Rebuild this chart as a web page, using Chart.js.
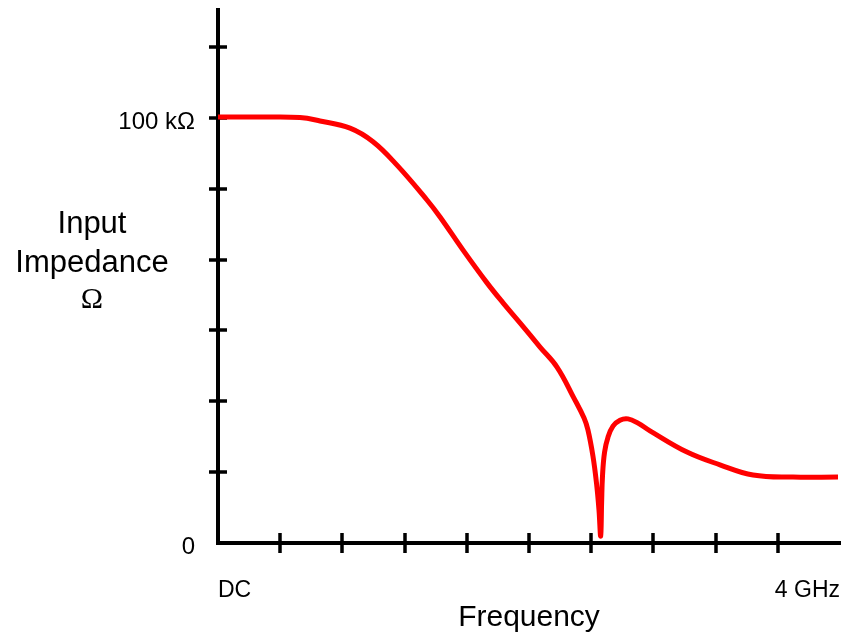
<!DOCTYPE html>
<html>
<head>
<meta charset="utf-8">
<script src="https://cdn.jsdelivr.net/npm/chart.js@4/dist/chart.umd.min.js"></script>
<style>
  html, body { margin: 0; padding: 0; background: #fff; }
</style>
</head>
<body>
<canvas id="myChart" width="843" height="639"></canvas>
<script>
// frequency in GHz, impedance in kOhm
const freqGHz = [0, 0.27, 0.527, 0.656, 0.849, 0.997, 1.151, 1.344, 1.428, 1.576,
  1.730, 1.833, 1.942, 2.071, 2.180, 2.289, 2.354, 2.379, 2.411, 2.434,
  2.450, 2.461, 2.467, 2.473, 2.486, 2.508, 2.540, 2.585, 2.637,
  2.701, 2.778, 3.016, 3.228, 3.441, 3.698, 3.987];
const impedanceK = [100.2, 100.2, 100.1, 99.3, 97.6, 94.4, 88.9, 80.7, 76.7, 68.9,
  61.2, 56.5, 51.8, 46.1, 41.4, 34.1, 29.4, 26.6, 20.5, 14.1,
  7.8, 1.6, 9.5, 16.0, 21.4, 24.9, 27.5, 28.9, 29.2,
  28.2, 26.4, 21.4, 18.4, 16.0, 15.5, 15.5];

const xTickValues = [0, 0.4, 0.8, 1.2, 1.6, 2.0, 2.4, 2.8, 3.2, 3.6, 4.0];
const xTickLabels = ["DC", "", "", "", "", "", "", "", "", "", "4 GHz"];
const yTickValues = [0, 16.667, 33.333, 50, 66.667, 83.333, 100, 116.667];
const yTickLabels = ["0", "", "", "", "", "", "100 k\u03A9", ""];
const yTitleLines = ["Input", "Impedance", "\u03A9"];

const SANS = '"Liberation Sans", Arial, sans-serif';

// crossing tick marks + horizontal y title
const axisMarks = {
  id: 'axisMarks',
  beforeDatasetsDraw(chart) {
    const { ctx, scales: { x, y } } = chart;
    ctx.save();
    ctx.strokeStyle = '#000';
    ctx.lineWidth = 3.5;
    ctx.beginPath();
    xTickValues.slice(1, -1).forEach(v => {
      const px = Math.round(x.getPixelForValue(v));
      ctx.moveTo(px, y.bottom - 10);
      ctx.lineTo(px, y.bottom + 10);
    });
    yTickValues.slice(1).forEach(v => {
      const py = Math.round(y.getPixelForValue(v));
      ctx.moveTo(x.left - 9, py);
      ctx.lineTo(x.left + 9, py);
    });
    ctx.stroke();

    ctx.fillStyle = '#000';
    ctx.textAlign = 'center';
    ctx.textBaseline = 'alphabetic';
    ctx.font = '31px ' + SANS;
    ctx.fillText(yTitleLines[0], 92, 233);
    ctx.fillText(yTitleLines[1], 92, 272);
    ctx.font = '30px "Liberation Serif", "Times New Roman", serif';
    ctx.fillText(yTitleLines[2], 92, 308);
    ctx.restore();
  }
};

const ctx = document.getElementById("myChart");
const myChart = new Chart(ctx, {
  type: "line",
  data: {
    datasets: [{
      label: "Input impedance",
      data: freqGHz.map((f, i) => ({ x: f, y: impedanceK[i] })),
      borderColor: "#ff0000",
      borderWidth: 5,
      pointRadius: 0,
      tension: 0.4,
      clip: false,
    }],
  },
  options: {
    responsive: false,
    animation: false,
    devicePixelRatio: 1,
    layout: { padding: { top: 10, right: 3, left: 0, bottom: 0 } },
    plugins: { legend: { display: false }, tooltip: { enabled: false } },
    scales: {
      x: {
        type: "linear",
        min: 0,
        max: 4,
        afterBuildTicks: s => { s.ticks = xTickValues.map(v => ({ value: v })); },
        afterFit: s => { s.height = 96; s.paddingLeft = 0; s.paddingRight = 0; },
        grid: { display: true, drawOnChartArea: false, drawTicks: false },
        border: { display: true, color: "#000", width: 4 },
        ticks: {
          autoSkip: false,
          maxRotation: 0,
          align: "inner",
          padding: 34,
          color: "#000",
          font: { family: SANS, size: 23 },
          callback: (v, i) => xTickLabels[i],
        },
        title: {
          display: true,
          text: "Frequency",
          color: "#000",
          font: { family: SANS, size: 30 },
          padding: { top: 0, bottom: 3 },
        },
      },
      y: {
        type: "linear",
        min: 0,
        max: 125.4,
        afterBuildTicks: s => { s.ticks = yTickValues.map(v => ({ value: v })); },
        afterFit: s => { s.width = 218; s.paddingTop = 0; s.paddingBottom = 0; },
        grid: { display: true, drawOnChartArea: false, drawTicks: false },
        border: { display: true, color: "#000", width: 4 },
        ticks: {
          autoSkip: false,
          padding: 23,
          labelOffset: 4,
          color: "#000",
          font: { family: SANS, size: 24 },
          callback: (v, i) => yTickLabels[i],
        },
      },
    },
  },
  plugins: [axisMarks],
});
</script>
</body>
</html>
